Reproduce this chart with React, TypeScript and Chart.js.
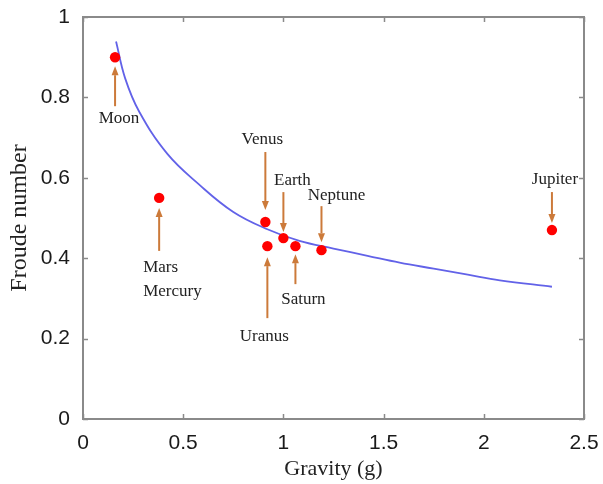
import React, { useEffect, useRef } from 'react';
import { Chart, registerables } from 'chart.js';

Chart.register(...registerables);

// ---- data ----
const planets = ['Moon', 'Mars / Mercury', 'Venus', 'Uranus', 'Earth', 'Saturn', 'Neptune', 'Jupiter'];
const gravity = [0.16, 0.38, 0.91, 0.92, 1.0, 1.06, 1.19, 2.34];
const froude = [0.9, 0.55, 0.49, 0.43, 0.45, 0.43, 0.42, 0.47];

const fitGravity = [0.165, 0.21, 0.28, 0.42, 0.58, 0.75, 0.92, 1.08, 1.25, 1.42, 1.58, 1.75, 1.92, 2.08, 2.34];
const fitFroude = [0.939, 0.848, 0.765, 0.66, 0.583, 0.515, 0.472, 0.443, 0.424, 0.406, 0.389, 0.374, 0.359, 0.345, 0.329];

const xTicks = [0, 0.5, 1, 1.5, 2, 2.5];
const yTicks = [0, 0.2, 0.4, 0.6, 0.8, 1];

const xTitle = 'Gravity (g)';
const yTitle = 'Froude number';

// annotation text per planet point (same order as gravity/froude)
const annotationText = [['Moon'], ['Mars', 'Mercury'], ['Venus'], ['Uranus'], ['Earth'], ['Saturn'], ['Neptune'], ['Jupiter']];

// ---- layout of annotations (pixel offsets relative to each point) ----
const annotationLayout = [
  { tip: 9, tail: 49, dx: 4, dy: 61, align: 'center' },
  { tip: 10, tail: 53, dx: -16, dy: 70, align: 'left' },
  { tip: -12, tail: -70, dx: -3, dy: -82, align: 'center' },
  { tip: 11, tail: 72, dx: -3, dy: 90, align: 'center' },
  { tip: -6, tail: -46, dx: 9, dy: -58, align: 'center' },
  { tip: 8, tail: 38, dx: 8, dy: 53, align: 'center' },
  { tip: -8, tail: -44, dx: 15, dy: -55, align: 'center' },
  { tip: -7, tail: -38, dx: 3, dy: -51, align: 'center' },
];

const SERIF = '"Liberation Serif", "Times New Roman", serif';
const SANS = '"Liberation Sans", Arial, Helvetica, sans-serif';
const ARROW = 'rgb(204,122,58)';
const FRAME = '#8a8a8a';

const framePlugin = {
  id: 'frameTicks',
  beforeDatasetsDraw(chart: any) {
    const { ctx, chartArea: a, scales } = chart;
    const x = scales.x;
    const y = scales.y;
    const len = 5;
    ctx.save();
    ctx.strokeStyle = FRAME;
    ctx.lineWidth = 1.5;
    ctx.beginPath();
    xTicks.forEach((v) => {
      const px = Math.round(x.getPixelForValue(v)) + 0.5;
      ctx.moveTo(px, a.bottom);
      ctx.lineTo(px, a.bottom - len);
      ctx.moveTo(px, a.top);
      ctx.lineTo(px, a.top + len);
    });
    yTicks.forEach((v) => {
      const py = Math.round(y.getPixelForValue(v)) + 0.5;
      ctx.moveTo(a.left, py);
      ctx.lineTo(a.left + len, py);
      ctx.moveTo(a.right, py);
      ctx.lineTo(a.right - len, py);
    });
    ctx.stroke();
    ctx.lineWidth = 2;
    ctx.strokeRect(a.left, a.top, a.right - a.left, a.bottom - a.top);
    ctx.restore();
  },
};

const annotationPlugin = {
  id: 'planetAnnotations',
  afterDatasetsDraw(chart: any) {
    const { ctx, scales } = chart;
    const x = scales.x;
    const y = scales.y;
    ctx.save();
    gravity.forEach((g, i) => {
      const lay = annotationLayout[i];
      const px = x.getPixelForValue(g);
      const py = y.getPixelForValue(froude[i]);
      const tipY = py + lay.tip;
      const tailY = py + lay.tail;
      const dir = Math.sign(lay.tip - lay.tail);
      const headLen = 9;
      const headHalf = 3.5;
      ctx.strokeStyle = ARROW;
      ctx.fillStyle = ARROW;
      ctx.lineWidth = 2;
      ctx.beginPath();
      ctx.moveTo(px, tailY);
      ctx.lineTo(px, tipY - dir * headLen);
      ctx.stroke();
      ctx.beginPath();
      ctx.moveTo(px, tipY);
      ctx.lineTo(px - headHalf, tipY - dir * headLen);
      ctx.lineTo(px + headHalf, tipY - dir * headLen);
      ctx.closePath();
      ctx.fill();

      ctx.fillStyle = '#222';
      ctx.font = `17px ${SERIF}`;
      ctx.textAlign = lay.align as CanvasTextAlign;
      ctx.textBaseline = 'middle';
      annotationText[i].forEach((line, k) => {
        ctx.fillText(line, px + lay.dx, py + lay.dy + k * 24);
      });
    });
    ctx.restore();
  },
};

const zeroPad = (s: any) => {
  s.paddingLeft = 0;
  s.paddingRight = 0;
  s.paddingTop = 0;
  s.paddingBottom = 0;
};

export default function App() {
  const ref = useRef<HTMLCanvasElement | null>(null);

  useEffect(() => {
    if (!ref.current) return;
    const chart = new Chart(ref.current, {
      type: 'scatter',
      data: {
        datasets: [
          {
            label: 'Planets',
            data: gravity.map((g, i) => ({ x: g, y: froude[i] })),
            backgroundColor: '#ff0000',
            borderColor: '#ff0000',
            pointRadius: 5.2,
            pointBorderWidth: 0,
            showLine: false,
          },
          {
            label: 'Fit',
            data: fitGravity.map((g, i) => ({ x: g, y: fitFroude[i] })),
            borderColor: 'rgb(98,98,232)',
            borderWidth: 1.8,
            pointRadius: 0,
            showLine: true,
            tension: 0.4,
          },
        ],
      },
      options: {
        responsive: false,
        animation: false,
        layout: { padding: { top: 17, right: 19, left: 0, bottom: 0 } },
        plugins: { legend: { display: false }, tooltip: { enabled: false } },
        scales: {
          x: {
            type: 'linear',
            min: 0,
            max: 2.5,
            grid: { display: false, drawTicks: false },
            border: { display: false },
            afterBuildTicks: (s: any) => {
              s.ticks = xTicks.map((v) => ({ value: v }));
            },
            afterFit: (s: any) => {
              s.height = 65;
              zeroPad(s);
            },
            ticks: {
              padding: 12,
              color: '#1a1a1a',
              font: { family: SANS, size: 21 },
              callback: (v: any) => String(v),
            },
            title: {
              display: true,
              text: xTitle,
              color: '#222',
              font: { family: SERIF, size: 22 },
              padding: { top: 0, bottom: 2 },
            },
          },
          y: {
            type: 'linear',
            min: 0,
            max: 1,
            grid: { display: false, drawTicks: false },
            border: { display: false },
            afterBuildTicks: (s: any) => {
              s.ticks = yTicks.map((v) => ({ value: v }));
            },
            afterFit: (s: any) => {
              s.width = 83;
              zeroPad(s);
            },
            ticks: {
              padding: 13,
              color: '#1a1a1a',
              font: { family: SANS, size: 21 },
              callback: (v: any) => String(v),
            },
            title: {
              display: true,
              text: yTitle,
              color: '#222',
              font: { family: SERIF, size: 24 },
              padding: { top: 5, bottom: 0 },
            },
          },
        },
      },
      plugins: [framePlugin, annotationPlugin],
    } as any);
    return () => chart.destroy();
  }, []);

  return (
    <div style={{ position: 'fixed', left: 0, top: 0, width: 603, height: 484, background: '#fff' }}>
      <canvas ref={ref} width={603} height={484} style={{ display: 'block' }} aria-label={planets.join(', ')} />
    </div>
  );
}
